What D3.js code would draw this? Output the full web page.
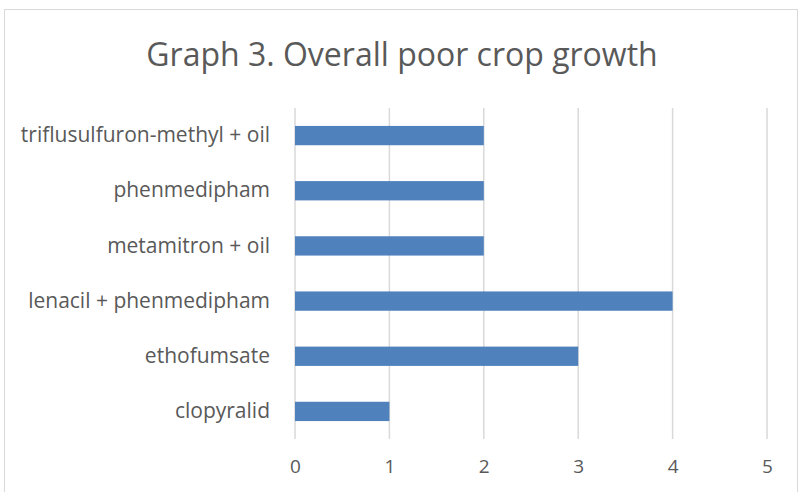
<!DOCTYPE html>
<html>
<head>
<meta charset="utf-8">
<script src="https://cdn.jsdelivr.net/npm/d3@7"></script>
<style>
  html, body { margin: 0; padding: 0; background: #fff; }
  svg { display: block; font-family: "Open Sans", sans-serif; }
</style>
</head>
<body>
<svg id="chart" width="803" height="492"></svg>
<script>
const categories = ['triflusulfuron-methyl + oil', 'phenmedipham', 'metamitron + oil',
  'lenacil + phenmedipham', 'ethofumsate', 'clopyralid'];
const values = [2, 2, 2, 4, 3, 1];
const xTicks = [0, 1, 2, 3, 4, 5];
const title = 'Graph 3. Overall poor crop growth';

const svg = d3.select('#chart');
const W = 803, H = 492;
const margin = { left: 295, right: 36, top: 108, bottom: 53 };

// chart frame
svg.append('rect')
  .attr('x', 4.5).attr('y', 9.5)
  .attr('width', 793).attr('height', 500)
  .attr('fill', '#fff')
  .attr('stroke', '#d9d9d9')
  .attr('stroke-width', 1);

const x = d3.scaleLinear().domain([0, 5]).range([margin.left, W - margin.right]);
const y = d3.scaleBand().domain(categories)
  .range([margin.top, H - margin.bottom])
  .paddingInner(0.65).paddingOuter(0.325);

// gridlines
svg.append('g')
  .selectAll('line')
  .data(xTicks)
  .join('line')
  .attr('x1', d => x(d)).attr('x2', d => x(d))
  .attr('y1', margin.top).attr('y2', H - margin.bottom)
  .attr('stroke', '#d9d9d9')
  .attr('stroke-width', 1.5);

// bars
svg.append('g')
  .selectAll('rect')
  .data(categories)
  .join('rect')
  .attr('x', x(0))
  .attr('y', d => y(d))
  .attr('width', (d, i) => x(values[i]) - x(0))
  .attr('height', y.bandwidth())
  .attr('fill', '#4f81bd');

// x axis labels
const xAxis = svg.append('g')
  .attr('transform', `translate(0,${H - margin.bottom})`)
  .call(d3.axisBottom(x).tickValues(xTicks).tickSize(0).tickPadding(21).tickFormat(d3.format('d')));
xAxis.select('.domain').remove();
xAxis.selectAll('text')
  .attr('fill', '#595959')
  .style('font-size', '19px')
  .style('font-family', '"Open Sans", sans-serif');

// y axis labels
const yAxis = svg.append('g')
  .attr('transform', `translate(${margin.left},0)`)
  .call(d3.axisLeft(y).tickSize(0).tickPadding(25));
yAxis.select('.domain').remove();
yAxis.selectAll('text')
  .attr('fill', '#595959')
  .style('font-size', '21px')
  .style('font-family', '"Open Sans", sans-serif');

// title
svg.append('text')
  .attr('x', 402).attr('y', 66)
  .attr('text-anchor', 'middle')
  .attr('fill', '#595959')
  .style('font-size', '32px')
  .text(title);
</script>
</body>
</html>
